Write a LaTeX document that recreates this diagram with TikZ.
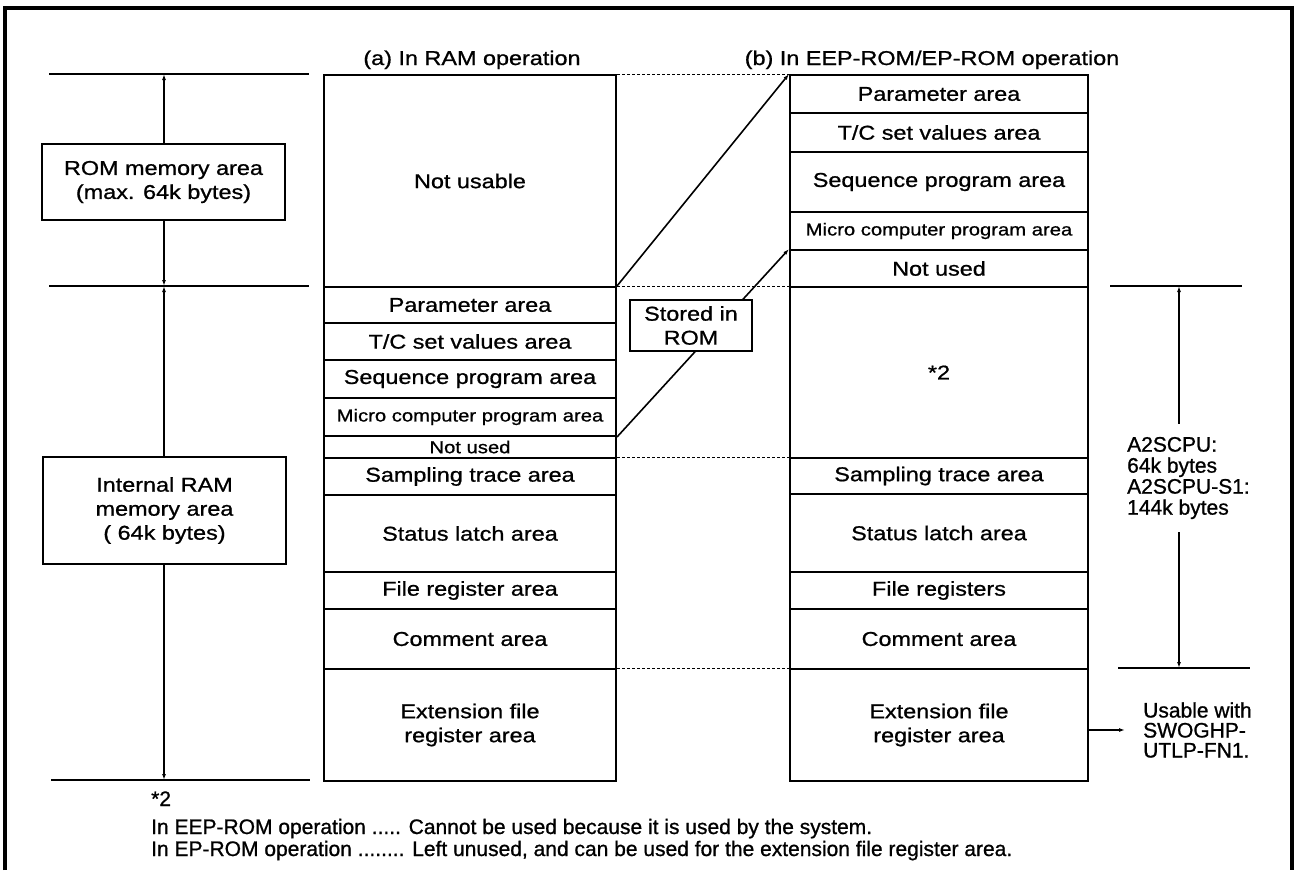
\documentclass[tikz,border=0pt]{standalone}
\usepackage{fontspec}
\setmainfont[FakeBold=0.9]{Liberation Sans}
\newfontfamily\widefont[FakeStretch=1.17,FakeBold=0.9]{Liberation Sans}
\usetikzlibrary{arrows.meta}
\newcommand{\boxtext}{\widefont\fontsize{20}{24}\selectfont}
\newcommand{\smalltext}{\widefont\fontsize{17.3}{20}\selectfont}
\newcommand{\notetext}{\fontsize{21}{21}\selectfont}

\begin{document}
\begin{tikzpicture}[x=1pt,y=-1pt,
  area/.style={draw,line width=2pt,inner sep=0pt,anchor=north west,align=center,font=\boxtext},
  acol/.style={area,minimum width=292},
  bcol/.style={area,minimum width=298},
  label/.style={draw,fill=white,line width=2pt,align=center,inner sep=0pt,font=\boxtext},
  rule/.style={line width=2.6pt},
  dim/.style={{Latex[length=6pt,width=4pt]}-{Latex[length=6pt,width=4pt]},line width=1.5pt},
  link/.style={densely dashed,line width=0.8pt},
  move/.style={-{Latex[length=6pt,width=4pt]},line width=1.6pt}]
\useasboundingbox (0,0) rectangle (1298,870);
% outer frame
\draw[line width=3.5pt] (5,870) -- (5,8) -- (1292,8) -- (1292,870);
% titles
\node[font=\boxtext,anchor=base] (ta) at (472,65) {(a) In RAM operation};
\node[font=\boxtext,anchor=base] (tb) at (932,65) {(b) In EEP-ROM/EP-ROM operation};
% (a) In RAM operation
\node[acol,minimum height=212] (anu) at (323,74) {Not usable};
\node[acol,minimum height=36] (apar) at (323,286) {Parameter area};
\node[acol,minimum height=37] (atc) at (323,322) {T/C set values area};
\node[acol,minimum height=38] (aseq) at (323,359) {Sequence program area};
\node[acol,minimum height=38,font=\smalltext] (amic) at (323,397) {Micro computer program area};
\node[acol,minimum height=22,font=\smalltext] (anot) at (323,435) {Not used};
\node[acol,minimum height=37] (asmp) at (323,457) {Sampling trace area};
\node[acol,minimum height=77] (alat) at (323,494) {Status latch area};
\node[acol,minimum height=37] (afr) at (323,571) {File register area};
\node[acol,minimum height=60] (acom) at (323,608) {Comment area};
\node[acol,minimum height=112] (aext) at (323,668) {Extension file\\register area};
% (b) In EEP-ROM/EP-ROM operation
\node[bcol,minimum height=38] (bpar) at (789,74) {Parameter area};
\node[bcol,minimum height=39] (btc) at (789,112) {T/C set values area};
\node[bcol,minimum height=60] (bseq) at (789,151) {Sequence program area};
\node[bcol,minimum height=38,font=\smalltext] (bmic) at (789,211) {Micro computer program area};
\node[bcol,minimum height=37] (bnot) at (789,249) {Not used};
\node[bcol,minimum height=171] (bstar) at (789,286) {*2};
\node[bcol,minimum height=36] (bsmp) at (789,457) {Sampling trace area};
\node[bcol,minimum height=78] (blat) at (789,493) {Status latch area};
\node[bcol,minimum height=37] (bfr) at (789,571) {File registers};
\node[bcol,minimum height=60] (bcom) at (789,608) {Comment area};
\node[bcol,minimum height=112] (bext) at (789,668) {Extension file\\register area};
% dashed boundaries between the two maps
\draw[link] (anu.north east) -- (bpar.north west);
\draw[link] (apar.north east) -- (bstar.north west);
\draw[link] (asmp.north east) -- (bsmp.north west);
\draw[link] (aext.north east) -- (bext.north west);
% what is moved to ROM
\draw[move] (apar.north east) -- (bpar.north west);
\draw[move] (amic.south east) -- (bnot.north west);
\node[label,minimum width=122,minimum height=51] (rom) at (691,325.5) {Stored in\\ROM};
% left dimensions
\coordinate (romtop) at (164,74);
\coordinate (split) at (164,286);
\coordinate (rambot) at (164,780);
\draw[rule] (49,74) -- (309,74);
\draw[rule] (49,286) -- (309,286);
\draw[rule] (51,780) -- (310,780);
\draw[dim] (romtop) -- (split);
\draw[dim] (split) -- (rambot);
\node[label,minimum width=243,minimum height=76] (romarea) at (163.5,182) {ROM memory area\\(max. 64k bytes)};
\node[label,minimum width=243,minimum height=107] (ramarea) at (164.5,510.5) {Internal RAM\\memory area\\( 64k bytes)};
% right dimension
\coordinate (cputop) at (1179,286);
\coordinate (cpubot) at (1179,668);
\draw[rule] (1110,286) -- (1242,286);
\draw[rule] (1118,668) -- (1250,668);
\draw[dim] (cputop) -- (cpubot);
\node[fill=white,anchor=west,align=left,inner xsep=2pt,inner ysep=13pt,font=\notetext] (cpu) at (1125,478) {A2SCPU:\\64k bytes\\A2SCPU-S1:\\144k bytes};
\node[anchor=west,align=left,inner sep=2pt,font=\fontsize{21}{20}\selectfont] (use) at (1141,730) {Usable with\\SWOGHP-\\UTLP-FN1.};
\draw[move,line width=1.4pt,shorten >=16pt] (bext.east |- use.west) -- (use.west);
% footnote
\node[anchor=base west,inner sep=0pt,font=\notetext] (star) at (151,806) {*2};
\node[anchor=base west,inner sep=0pt,font=\notetext] (eep) at (151,834) {In EEP-ROM operation ..... Cannot be used because it is used by the system.};
\node[anchor=base west,inner sep=0pt,font=\notetext] (ep) at (151,856) {In EP-ROM operation ........ Left unused, and can be used for the extension file register area.};
\end{tikzpicture}
\end{document}
